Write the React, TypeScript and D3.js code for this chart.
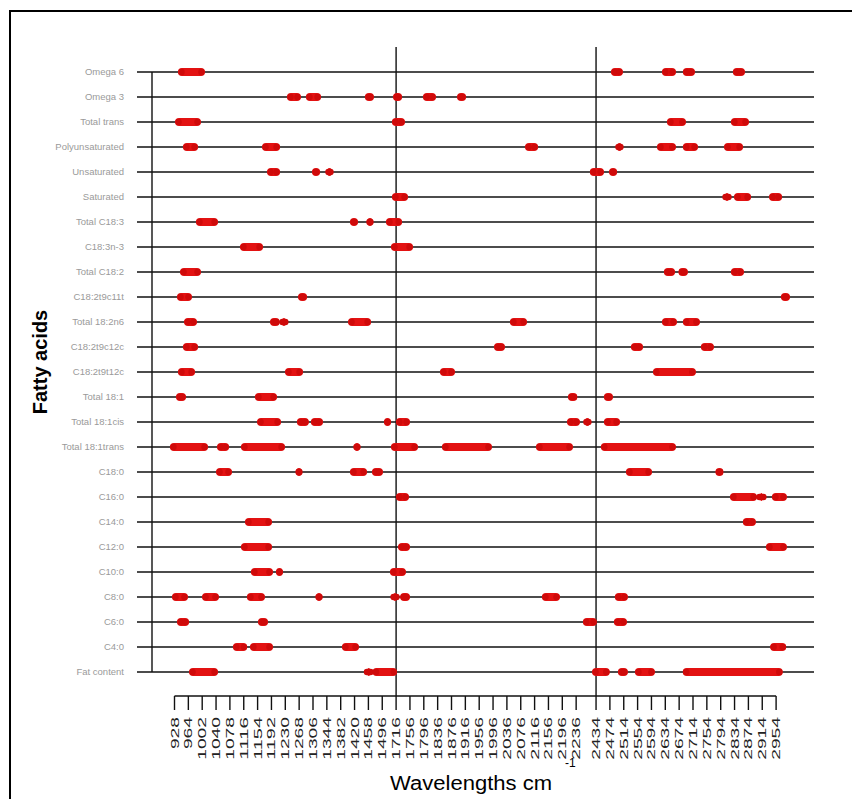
import React, { useEffect, useRef } from "react";
import * as d3 from "d3";

// Fatty acids, top to bottom
const fattyAcids = [
  "Omega 6", "Omega 3", "Total trans", "Polyunsaturated", "Unsaturated", "Saturated",
  "Total C18:3", "C18:3n-3", "Total C18:2", "C18:2t9c11t", "Total 18:2n6", "C18:2t9c12c",
  "C18:2t9t12c", "Total 18:1", "Total 18:1cis", "Total 18:1trans", "C18:0", "C16:0",
  "C14:0", "C12:0", "C10:0", "C8:0", "C6:0", "C4:0", "Fat content",
];

// tick labels of the wavelength axis (cm-1)
const wavenumbers = [
  928, 964, 1002, 1040, 1078, 1116, 1154, 1192, 1230, 1268, 1306, 1344, 1382, 1420, 1458, 1496,
  1716, 1756, 1796, 1836, 1876, 1916, 1956, 1996, 2036, 2076, 2116, 2156, 2196, 2236,
  2434, 2474, 2514, 2554, 2594, 2634, 2674, 2714, 2754, 2794, 2834, 2874, 2914, 2954,
];

// ticks drawn as full vertical lines (start of a new spectral region)
const regionStarts = [16, 30];

// selected wavelength intervals per fatty acid, in tick-index units
const selectedRanges = [
  [[0.25, 2.2], [31.08, 31.94], [34.76, 35.77], [36.27, 37.14], [39.88, 40.75]],
  [[8.12, 9.13], [9.49, 10.58], [13.75, 14.4], [15.78, 16.43], [17.94, 18.88], [20.4, 21.05]],
  [[0.04, 1.91], [15.7, 16.64], [35.12, 36.49], [39.74, 41.04]],
  [[0.61, 1.7], [6.32, 7.62], [25.31, 26.25], [31.51, 31.87], [34.4, 35.77], [36.27, 37.36], [39.24, 40.61]],
  [[6.68, 7.62], [9.93, 10.51], [11.01, 11.37], [29.69, 30.57], [30.94, 31.52]],
  [[15.7, 16.86], [39.31, 39.6], [39.96, 41.19], [42.49, 43.43]],
  [[1.55, 3.14], [12.67, 13.25], [13.9, 14.33], [15.27, 16.43]],
  [[4.73, 6.39], [15.63, 17.22]],
  [[0.4, 1.91], [34.9, 35.7], [35.95, 36.63], [39.74, 40.68]],
  [[0.18, 1.26], [8.92, 9.57], [43.35, 44.0]],
  [[0.69, 1.62], [6.9, 7.6], [7.75, 8.05], [12.53, 14.19], [24.22, 25.45], [34.76, 35.84], [36.27, 37.5]],
  [[0.61, 1.7], [23.07, 23.86], [32.52, 33.39], [37.57, 38.51]],
  [[0.25, 1.48], [7.98, 9.28], [19.17, 20.25], [34.11, 37.21]],
  [[0.11, 0.83], [5.81, 7.4], [28.41, 29.06], [30.57, 31.22]],
  [[5.96, 7.69], [8.84, 9.7], [9.85, 10.72], [15.13, 15.63], [15.99, 17.0], [28.34, 29.19], [29.44, 29.69], [30.57, 31.73]],
  [[-0.33, 2.42], [3.07, 3.94], [4.8, 7.98], [12.96, 13.39], [15.63, 17.58], [19.31, 22.92], [26.1, 28.77], [30.35, 35.77]],
  [[3.0, 4.15], [8.77, 9.21], [12.67, 13.9], [14.26, 15.05], [32.16, 34.04], [38.62, 39.2]],
  [[15.99, 16.93], [39.67, 41.62], [41.83, 42.05], [42.7, 43.78]],
  [[5.09, 7.04], [40.6, 41.54]],
  [[4.8, 7.04], [16.14, 17.0], [42.27, 43.78]],
  [[5.52, 7.11], [7.33, 7.83], [15.56, 16.71]],
  [[-0.18, 0.97], [1.99, 3.21], [5.23, 6.53], [10.22, 10.65], [15.78, 16.07], [16.29, 17.0], [26.53, 27.83], [31.36, 32.3]],
  [[0.18, 1.05], [6.03, 6.75], [29.34, 30.06], [31.29, 32.23]],
  [[4.22, 5.25], [5.45, 7.11], [12.09, 13.32], [42.57, 43.73]],
  [[1.05, 3.14], [13.9, 14.15], [14.3, 16.07], [29.8, 30.99], [31.58, 32.3], [32.81, 34.25], [36.26, 43.48]],
];

const width = 852;
const height = 799;
const left = 174.5;
const step = 13.85;
const gap = 19.9;
const top = 72;
const bottom = 672;
const axisY = 696;

export default function App() {
  const svgRef = useRef(null);

  useEffect(() => {
    const svg = d3.select(svgRef.current);
    svg.selectAll("*").remove();

    const n = wavenumbers.length - 1;
    const x = d3.scaleLinear()
      .domain([0, 29, 30, n])
      .range([left, left + 29 * step, left + 29 * step + gap, left + 29 * step + gap + (n - 30) * step]);
    const y = d3.scalePoint().domain(fattyAcids).range([top, bottom]);

    svg.append("rect").attr("width", width).attr("height", height).attr("fill", "#fff");

    // outer frame
    svg.append("rect")
      .attr("x", 10).attr("y", 11).attr("width", 900).attr("height", 900)
      .attr("fill", "none").attr("stroke", "#000").attr("stroke-width", 2);

    // row lines + y ticks
    svg.append("g").selectAll("line").data(fattyAcids).join("line")
      .attr("x1", 137).attr("x2", 814)
      .attr("y1", d => y(d)).attr("y2", d => y(d))
      .attr("stroke", "#111").attr("stroke-width", 1.4);

    svg.append("line")
      .attr("x1", 152).attr("x2", 152).attr("y1", top).attr("y2", bottom)
      .attr("stroke", "#111").attr("stroke-width", 1.4);

    // region start lines
    svg.append("g").selectAll("line").data(regionStarts).join("line")
      .attr("x1", d => x(d)).attr("x2", d => x(d))
      .attr("y1", 47).attr("y2", axisY)
      .attr("stroke", "#111").attr("stroke-width", 1.4);

    // y labels
    svg.append("g").selectAll("text").data(fattyAcids).join("text")
      .attr("x", 124).attr("y", d => y(d) + 3)
      .attr("text-anchor", "end")
      .attr("font-family", "Liberation Sans, Arial, sans-serif")
      .attr("font-size", 9.5)
      .attr("fill", "#9a9a9a")
      .text(d => d);

    // selected ranges
    const rows = svg.append("g").selectAll("g").data(selectedRanges).join("g")
      .attr("transform", (_, i) => `translate(0,${y(fattyAcids[i])})`);

    rows.selectAll("rect").data(d => d).join("rect")
      .attr("x", d => x(d[0]))
      .attr("width", d => x(d[1]) - x(d[0]))
      .attr("y", -4).attr("height", 8)
      .attr("rx", 4)
      .attr("fill", "#e31212");

    rows.selectAll("circle").data(d => d.flatMap(r => [r[0], r[1]])).join("circle")
      .attr("cx", (d, i) => x(d) + (i % 2 === 0 ? 3.5 : -3.5))
      .attr("cy", 0).attr("r", 3.2)
      .attr("fill", "#cf0a0a");

    // x axis
    svg.append("line")
      .attr("x1", x(0)).attr("x2", x(n)).attr("y1", axisY).attr("y2", axisY)
      .attr("stroke", "#111").attr("stroke-width", 1.4);

    svg.append("g").selectAll("line").data(wavenumbers).join("line")
      .attr("x1", (_, i) => x(i)).attr("x2", (_, i) => x(i))
      .attr("y1", axisY).attr("y2", 710)
      .attr("stroke", "#111").attr("stroke-width", 1.4);

    svg.append("g").selectAll("text").data(wavenumbers).join("text")
      .attr("transform", (_, i) => `translate(${x(i) + 4},717) rotate(-90)`)
      .attr("text-anchor", "end")
      .attr("font-family", "Liberation Sans, Arial, sans-serif")
      .attr("font-size", 11)
      .attr("textLength", d => String(d).length * 10.7)
      .attr("lengthAdjust", "spacingAndGlyphs")
      .attr("fill", "#222")
      .text(d => d);

    // axis titles
    svg.append("text")
      .attr("transform", "translate(47,362) rotate(-90)")
      .attr("text-anchor", "middle")
      .attr("font-family", "Liberation Sans, Arial, sans-serif")
      .attr("font-size", 20).attr("font-weight", "bold")
      .text("Fatty acids");

    svg.append("text")
      .attr("x", 390).attr("y", 790)
      .attr("font-family", "Liberation Sans, Arial, sans-serif")
      .attr("font-size", 20)
      .attr("textLength", 162).attr("lengthAdjust", "spacingAndGlyphs")
      .text("Wavelengths cm");

    svg.append("text")
      .attr("x", 565).attr("y", 767)
      .attr("font-family", "Liberation Sans, Arial, sans-serif")
      .attr("font-size", 12)
      .text("-1");
  }, []);

  return (
    <svg
      ref={svgRef}
      width={width}
      height={height}
      style={{ position: "absolute", left: 0, top: 0, display: "block" }}
    />
  );
}
